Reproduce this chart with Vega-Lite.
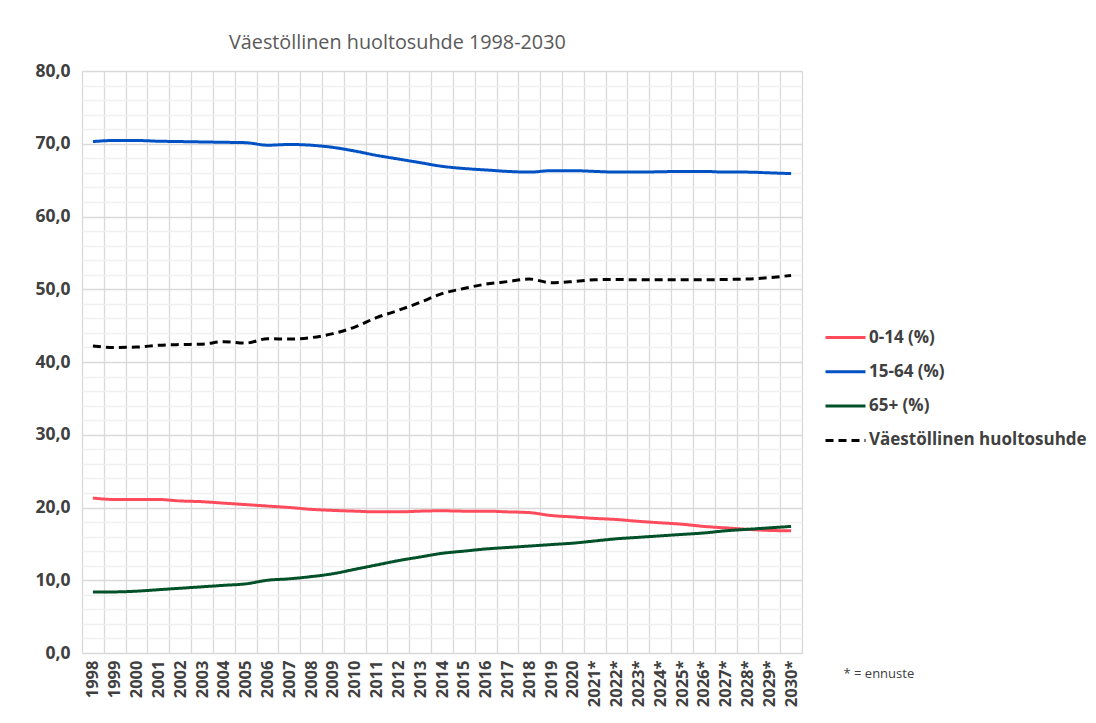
{
  "$schema": "https://vega.github.io/schema/vega-lite/v6.json",
  "width": 720,
  "height": 582,
  "autosize": "none",
  "padding": {"left": 82, "top": 71, "right": 294, "bottom": 70},
  "background": "white",
  "title": {"text": "Väestöllinen huoltosuhde 1998-2030", "anchor": "start", "dx": 194, "offset": 9, "fontSize": 19.8, "font": "Open Sans", "fontWeight": "normal", "color": "#595959"},
  "config": {
    "font": "Open Sans",
    "view": {"stroke": "#d9d9d9"},
    "legend": {
      "orient": "none", "legendX": 742, "legendY": 245, "title": null,
      "symbolType": "stroke", "symbolSize": 1600, "symbolStrokeWidth": 3,
      "labelFontSize": 17, "labelFontWeight": "bold", "labelColor": "#404040", "labelFont": "Open Sans",
      "labelOffset": 2, "rowPadding": 4.3, "labelLimit": 400
    }
  },
  "data": {"values": [
    {"v":"1998","s":"0-14 (%)","y":21.3},{"v":"1999","s":"0-14 (%)","y":21.1},{"v":"2000","s":"0-14 (%)","y":21.1},{"v":"2001","s":"0-14 (%)","y":21.1},{"v":"2002","s":"0-14 (%)","y":20.9},{"v":"2003","s":"0-14 (%)","y":20.8},{"v":"2004","s":"0-14 (%)","y":20.6},{"v":"2005","s":"0-14 (%)","y":20.4},{"v":"2006","s":"0-14 (%)","y":20.2},{"v":"2007","s":"0-14 (%)","y":20.0},{"v":"2008","s":"0-14 (%)","y":19.75},{"v":"2009","s":"0-14 (%)","y":19.6},{"v":"2010","s":"0-14 (%)","y":19.5},{"v":"2011","s":"0-14 (%)","y":19.4},{"v":"2012","s":"0-14 (%)","y":19.4},{"v":"2013","s":"0-14 (%)","y":19.5},{"v":"2014","s":"0-14 (%)","y":19.55},{"v":"2015","s":"0-14 (%)","y":19.5},{"v":"2016","s":"0-14 (%)","y":19.5},{"v":"2017","s":"0-14 (%)","y":19.4},{"v":"2018","s":"0-14 (%)","y":19.3},{"v":"2019","s":"0-14 (%)","y":18.9},{"v":"2020","s":"0-14 (%)","y":18.7},{"v":"2021*","s":"0-14 (%)","y":18.5},{"v":"2022*","s":"0-14 (%)","y":18.35},{"v":"2023*","s":"0-14 (%)","y":18.1},{"v":"2024*","s":"0-14 (%)","y":17.9},{"v":"2025*","s":"0-14 (%)","y":17.7},{"v":"2026*","s":"0-14 (%)","y":17.4},{"v":"2027*","s":"0-14 (%)","y":17.2},{"v":"2028*","s":"0-14 (%)","y":17.0},{"v":"2029*","s":"0-14 (%)","y":16.85},{"v":"2030*","s":"0-14 (%)","y":16.8},
    {"v":"1998","s":"15-64 (%)","y":70.3},{"v":"1999","s":"15-64 (%)","y":70.45},{"v":"2000","s":"15-64 (%)","y":70.45},{"v":"2001","s":"15-64 (%)","y":70.35},{"v":"2002","s":"15-64 (%)","y":70.3},{"v":"2003","s":"15-64 (%)","y":70.25},{"v":"2004","s":"15-64 (%)","y":70.2},{"v":"2005","s":"15-64 (%)","y":70.15},{"v":"2006","s":"15-64 (%)","y":69.8},{"v":"2007","s":"15-64 (%)","y":69.9},{"v":"2008","s":"15-64 (%)","y":69.8},{"v":"2009","s":"15-64 (%)","y":69.5},{"v":"2010","s":"15-64 (%)","y":69.0},{"v":"2011","s":"15-64 (%)","y":68.4},{"v":"2012","s":"15-64 (%)","y":67.9},{"v":"2013","s":"15-64 (%)","y":67.4},{"v":"2014","s":"15-64 (%)","y":66.9},{"v":"2015","s":"15-64 (%)","y":66.6},{"v":"2016","s":"15-64 (%)","y":66.4},{"v":"2017","s":"15-64 (%)","y":66.2},{"v":"2018","s":"15-64 (%)","y":66.1},{"v":"2019","s":"15-64 (%)","y":66.3},{"v":"2020","s":"15-64 (%)","y":66.3},{"v":"2021*","s":"15-64 (%)","y":66.2},{"v":"2022*","s":"15-64 (%)","y":66.1},{"v":"2023*","s":"15-64 (%)","y":66.1},{"v":"2024*","s":"15-64 (%)","y":66.15},{"v":"2025*","s":"15-64 (%)","y":66.2},{"v":"2026*","s":"15-64 (%)","y":66.2},{"v":"2027*","s":"15-64 (%)","y":66.1},{"v":"2028*","s":"15-64 (%)","y":66.1},{"v":"2029*","s":"15-64 (%)","y":66.0},{"v":"2030*","s":"15-64 (%)","y":65.9},
    {"v":"1998","s":"65+ (%)","y":8.4},{"v":"1999","s":"65+ (%)","y":8.4},{"v":"2000","s":"65+ (%)","y":8.5},{"v":"2001","s":"65+ (%)","y":8.7},{"v":"2002","s":"65+ (%)","y":8.9},{"v":"2003","s":"65+ (%)","y":9.1},{"v":"2004","s":"65+ (%)","y":9.3},{"v":"2005","s":"65+ (%)","y":9.5},{"v":"2006","s":"65+ (%)","y":10.0},{"v":"2007","s":"65+ (%)","y":10.2},{"v":"2008","s":"65+ (%)","y":10.5},{"v":"2009","s":"65+ (%)","y":10.9},{"v":"2010","s":"65+ (%)","y":11.5},{"v":"2011","s":"65+ (%)","y":12.1},{"v":"2012","s":"65+ (%)","y":12.7},{"v":"2013","s":"65+ (%)","y":13.2},{"v":"2014","s":"65+ (%)","y":13.7},{"v":"2015","s":"65+ (%)","y":14.0},{"v":"2016","s":"65+ (%)","y":14.3},{"v":"2017","s":"65+ (%)","y":14.5},{"v":"2018","s":"65+ (%)","y":14.7},{"v":"2019","s":"65+ (%)","y":14.9},{"v":"2020","s":"65+ (%)","y":15.1},{"v":"2021*","s":"65+ (%)","y":15.4},{"v":"2022*","s":"65+ (%)","y":15.7},{"v":"2023*","s":"65+ (%)","y":15.9},{"v":"2024*","s":"65+ (%)","y":16.1},{"v":"2025*","s":"65+ (%)","y":16.3},{"v":"2026*","s":"65+ (%)","y":16.5},{"v":"2027*","s":"65+ (%)","y":16.8},{"v":"2028*","s":"65+ (%)","y":17.0},{"v":"2029*","s":"65+ (%)","y":17.2},{"v":"2030*","s":"65+ (%)","y":17.4},
    {"v":"1998","s":"Väestöllinen huoltosuhde","y":42.2},{"v":"1999","s":"Väestöllinen huoltosuhde","y":42.0},{"v":"2000","s":"Väestöllinen huoltosuhde","y":42.05},{"v":"2001","s":"Väestöllinen huoltosuhde","y":42.3},{"v":"2002","s":"Väestöllinen huoltosuhde","y":42.4},{"v":"2003","s":"Väestöllinen huoltosuhde","y":42.45},{"v":"2004","s":"Väestöllinen huoltosuhde","y":42.8},{"v":"2005","s":"Väestöllinen huoltosuhde","y":42.6},{"v":"2006","s":"Väestöllinen huoltosuhde","y":43.2},{"v":"2007","s":"Väestöllinen huoltosuhde","y":43.15},{"v":"2008","s":"Väestöllinen huoltosuhde","y":43.35},{"v":"2009","s":"Väestöllinen huoltosuhde","y":43.9},{"v":"2010","s":"Väestöllinen huoltosuhde","y":44.8},{"v":"2011","s":"Väestöllinen huoltosuhde","y":46.1},{"v":"2012","s":"Väestöllinen huoltosuhde","y":47.1},{"v":"2013","s":"Väestöllinen huoltosuhde","y":48.2},{"v":"2014","s":"Väestöllinen huoltosuhde","y":49.4},{"v":"2015","s":"Väestöllinen huoltosuhde","y":50.1},{"v":"2016","s":"Väestöllinen huoltosuhde","y":50.7},{"v":"2017","s":"Väestöllinen huoltosuhde","y":51.05},{"v":"2018","s":"Väestöllinen huoltosuhde","y":51.4},{"v":"2019","s":"Väestöllinen huoltosuhde","y":50.9},{"v":"2020","s":"Väestöllinen huoltosuhde","y":51.05},{"v":"2021*","s":"Väestöllinen huoltosuhde","y":51.3},{"v":"2022*","s":"Väestöllinen huoltosuhde","y":51.35},{"v":"2023*","s":"Väestöllinen huoltosuhde","y":51.3},{"v":"2024*","s":"Väestöllinen huoltosuhde","y":51.3},{"v":"2025*","s":"Väestöllinen huoltosuhde","y":51.3},{"v":"2026*","s":"Väestöllinen huoltosuhde","y":51.3},{"v":"2027*","s":"Väestöllinen huoltosuhde","y":51.35},{"v":"2028*","s":"Väestöllinen huoltosuhde","y":51.4},{"v":"2029*","s":"Väestöllinen huoltosuhde","y":51.6},{"v":"2030*","s":"Väestöllinen huoltosuhde","y":51.9}
  ]},
  "mark": {"type": "line", "strokeWidth": 3, "interpolate": "monotone"},
  "encoding": {
    "x": {
      "field": "v", "type": "nominal", "sort": null, "bandPosition": 0.5,
      "scale": {"type": "band", "paddingInner": 0, "paddingOuter": 0},
      "axis": {
        "tickBand": "extent", "grid": true, "gridColor": "#d9d9d9", "gridWidth": 1.3,
        "ticks": false, "domainColor": "#d9d9d9",
        "labelAngle": 270, "labelAlign": "right", "labelBaseline": "middle",
        "labelFontSize": 16.5, "labelFontWeight": "bold", "labelColor": "#404040", "labelPadding": 7,
        "title": "* = ennuste", "titleX": 761, "titleY": 20, "titleAngle": 0,
        "titleAlign": "left", "titleBaseline": "middle", "titleFontWeight": "normal",
        "titleFontSize": 13, "titleColor": "#404040"
      }
    },
    "y": {
      "field": "y", "type": "quantitative",
      "scale": {"domain": [0, 80], "nice": false},
      "axis": {
        "values": [0,2,4,6,8,10,12,14,16,18,20,22,24,26,28,30,32,34,36,38,40,42,44,46,48,50,52,54,56,58,60,62,64,66,68,70,72,74,76,78,80],
        "labelExpr": "datum.value % 10 === 0 ? replace(format(datum.value, '.1f'), '.', ',') : ''",
        "gridColor": {"condition": {"test": "datum.value % 10 === 0", "value": "#d9d9d9"}, "value": "#f0f0f0"},
        "gridWidth": 1.3,
        "ticks": false, "domain": false, "title": null,
        "labelFontSize": 17.5, "labelFontWeight": "bold", "labelColor": "#404040", "labelPadding": 12
      }
    },
    "color": {
      "field": "s", "type": "nominal",
      "scale": {"domain": ["0-14 (%)", "15-64 (%)", "65+ (%)", "Väestöllinen huoltosuhde"], "range": ["#ff4b5c", "#0052c4", "#00502a", "#000000"]}
    },
    "strokeDash": {
      "field": "s", "type": "nominal",
      "scale": {"domain": ["0-14 (%)", "15-64 (%)", "65+ (%)", "Väestöllinen huoltosuhde"], "range": [[1, 0], [1, 0], [1, 0], [8, 5]]}
    }
  }
}
